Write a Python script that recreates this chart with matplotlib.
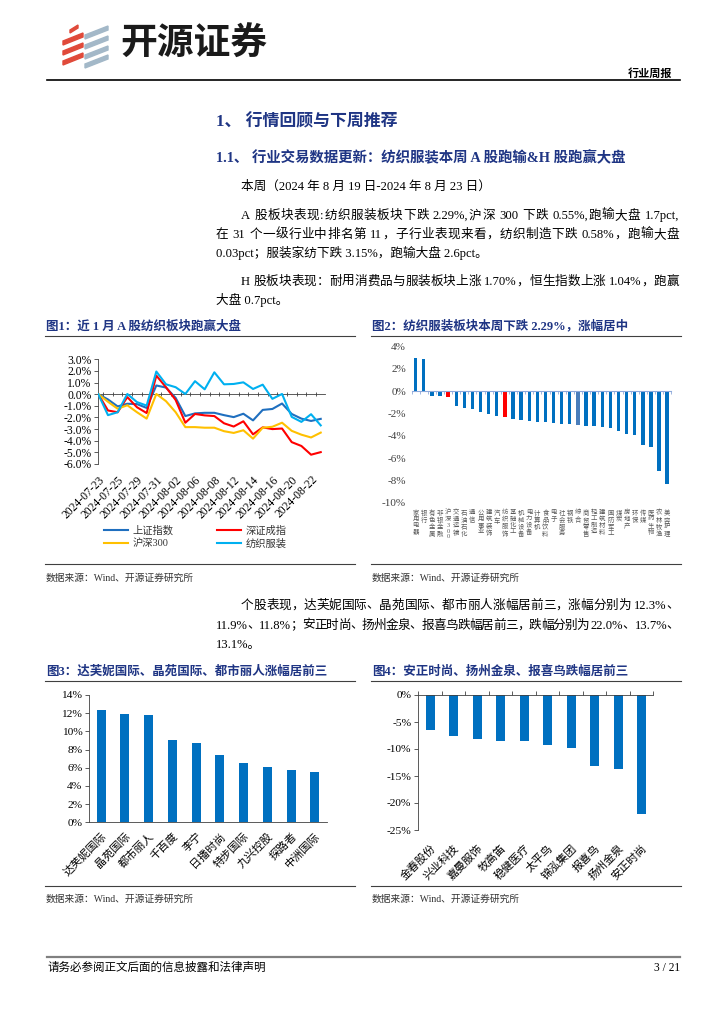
import numpy as np
import matplotlib
matplotlib.use('Agg')
import matplotlib.pyplot as plt
from matplotlib.lines import Line2D
from matplotlib.patches import Polygon
from matplotlib.ticker import FuncFormatter

plt.rcParams['font.family'] = ['Liberation Serif', 'Noto Sans CJK SC']
plt.rcParams['axes.unicode_minus'] = False

W, H = 724, 1024
NAVY = '#1F3584'
BLUE = '#0070C0'
RED = '#FF0000'

# ---- chart 1: cumulative change since 2024-07-23 (%)
dates = ['2024-07-23', '2024-07-24', '2024-07-25', '2024-07-26', '2024-07-29',
         '2024-07-30', '2024-07-31', '2024-08-01', '2024-08-02', '2024-08-05',
         '2024-08-06', '2024-08-07', '2024-08-08', '2024-08-09', '2024-08-12',
         '2024-08-13', '2024-08-14', '2024-08-15', '2024-08-16', '2024-08-19',
         '2024-08-20', '2024-08-21', '2024-08-22', '2024-08-23']
sh_index = [0, -0.45, -1.05, -0.82, -0.85, -1.18, 0.75, 0.57, -0.32, -1.88, -1.65, -1.6,
            -1.6, -1.8, -1.97, -1.68, -2.25, -1.35, -1.27, -0.8, -1.7, -2.1, -2.3, -2.12]
sz_index = [0, -1.4, -1.55, -0.25, -1.12, -1.62, 1.6, 0.6, -0.5, -2.45, -1.7, -1.82,
            -1.88, -2.5, -2.78, -2.33, -3.45, -2.85, -3.0, -2.95, -4.12, -4.45, -5.2, -4.98]
hs300 = [0, -0.65, -1.25, -0.95, -1.55, -2.1, 0.02, -0.6, -1.55, -2.83, -2.83, -2.88,
         -2.88, -3.18, -3.33, -3.1, -3.82, -2.88, -2.8, -2.45, -3.15, -3.48, -3.72, -3.3]
textile = [0, -1.8, -1.55, 0.02, -0.68, -0.98, 1.95, 0.85, 0.6, 0.02, 1.12, 0.42,
           1.88, 0.85, 0.88, 1.02, 0.45, 0.82, -0.4, 0.02, -1.95, -2.38, -1.72, -2.68]

# ---- chart 2: weekly change by industry (%)
industries = ['家用电器', '银行', '有色金属', '非银金融', '沪深300', '交通运输', '石油石化', '通信',
              '公用事业', '建筑装饰', '汽车', '纺织服饰', '基础化工', '机械设备', '电力设备', '计算机',
              '食品饮料', '电子', '社会服务', '钢铁', '综合', '商贸零售', '轻工制造', '建筑材料',
              '国防军工', '煤炭', '房地产', '环保', '传媒', '医药生物', '农林牧渔', '美容护理']
industry_chg = [2.98, 2.87, -0.42, -0.45, -0.55, -1.34, -1.5, -1.56, -1.86, -2.08, -2.2, -2.29,
                -2.45, -2.55, -2.64, -2.74, -2.8, -2.88, -2.9, -2.94, -3.0, -3.08, -3.12, -3.25,
                -3.28, -3.55, -3.82, -3.94, -4.78, -5.04, -7.16, -8.33]

# ---- chart 3 / 4: top gainers and losers (%)
gain_names = ['达芙妮国际', '晶苑国际', '都市丽人', '千百度', '李宁', '日播时尚', '特步国际',
              '九兴控股', '探路者', '中洲国际']
gain_vals = [12.3, 11.9, 11.8, 9.1, 8.75, 7.4, 6.5, 6.05, 5.75, 5.5]
loss_names = ['金春股份', '兴业科技', '嘉曼服饰', '牧高笛', '稳健医疗', '太平鸟', '锦泓集团',
              '报喜鸟', '扬州金泉', '安正时尚']
loss_vals = [-6.5, -7.55, -8.15, -8.55, -8.55, -9.3, -9.85, -13.1, -13.7, -22.0]

fig = plt.figure(figsize=(7.24, 10.24), dpi=100)
renderer = fig.canvas.get_renderer()


def box(l, t, r, b):
    return [l / W, 1 - b / H, (r - l) / W, (b - t) / H]


def hline(x0, x1, y, lw=0.8, color='#404040'):
    fig.add_artist(Line2D([x0 / W, x1 / W], [1 - y / H, 1 - y / H], lw=lw, color=color))


def is_cjk(ch):
    return ord(ch) > 0x2E7F


def tokens_of(s):
    toks, cur = [], ''
    for ch in s:
        if is_cjk(ch) or ch == ' ':
            if cur:
                toks.append(cur)
                cur = ''
            toks.append(ch)
        else:
            cur += ch
    if cur:
        toks.append(cur)
    return toks


def line(x0, y, s, size=9.1, x1=None, ha='left', **kw):
    base = 1 - (y + 0.36 * size * 100 / 72) / H
    if x1 is None:
        fig.text(x0 / W, base, s, fontsize=size, va='baseline', ha=ha, **kw)
        return
    # justified line: spread tokens evenly between x0 and x1
    toks = tokens_of(s)
    arts, widths = [], []
    for t in toks:
        a = fig.text(0, base, t, fontsize=size, va='baseline', ha='left', **kw)
        widths.append(a.get_window_extent(renderer).width)
        arts.append(a)
    gap = ((x1 - x0) - sum(widths)) / (len(toks) - 1)
    x = x0
    for a, w in zip(arts, widths):
        a.set_x(x / W)
        x += w + gap


# ---- page header
for yb in [33, 43, 53]:
    fig.add_artist(Polygon([(63 / W, 1 - (yb + 8) / H), (83 / W, 1 - yb / H),
                            (83 / W, 1 - (yb + 4) / H), (63 / W, 1 - (yb + 12) / H)],
                           closed=True, color='#E04A3A', transform=fig.transFigure))
fig.add_artist(Polygon([(70 / W, 1 - 30 / H), (78 / W, 1 - 25 / H), (78 / W, 1 - 28 / H), (70 / W, 1 - 33 / H)],
                       closed=True, color='#E04A3A', transform=fig.transFigure))
for yb in [27, 37, 47, 56]:
    fig.add_artist(Polygon([(85 / W, 1 - (yb + 8) / H), (108 / W, 1 - (yb - 1) / H),
                            (108 / W, 1 - (yb + 3) / H), (85 / W, 1 - (yb + 12) / H)],
                           closed=True, color='#A3B8C8', transform=fig.transFigure))
fig.text(120 / W, 1 - 44 / H, '开源证券', fontsize=26.5, fontweight='bold', va='center',
         family='Noto Sans CJK SC', color='#1A1A1A')
line(672, 73, '行业周报', size=8, ha='right', fontweight='bold')
hline(47, 680, 80, lw=1.2, color='black')

# ---- body text
line(216, 120, '1、 行情回顾与下周推荐', size=12.2, fontweight='bold', color=NAVY)
line(216, 157, '1.1、 行业交易数据更新：纺织服装本周 A 股跑输&H 股跑赢大盘', size=10.4,
     fontweight='bold', color=NAVY)
line(241, 185, '本周（2024 年 8 月 19 日-2024 年 8 月 23 日）')
line(241, 214, 'A 股板块表现:纺织服装板块下跌 2.29%,沪深 300 下跌 0.55%,跑输大盘 1.7pct,', x1=679)
line(216, 233, '在 31 个一级行业中排名第 11，子行业表现来看，纺织制造下跌 0.58%，跑输大盘', x1=679)
line(216, 252, '0.03pct；服装家纺下跌 3.15%，跑输大盘 2.6pct。')
line(241, 280, 'H 股板块表现：耐用消费品与服装板块上涨 1.70%，恒生指数上涨 1.04%，跑赢', x1=679)
line(216, 299, '大盘 0.7pct。')
line(241, 604, '个股表现，达芙妮国际、晶苑国际、都市丽人涨幅居前三，涨幅分别为 12.3%、', x1=679)
line(216, 624, '11.9%、11.8%；安正时尚、扬州金泉、报喜鸟跌幅居前三，跌幅分别为 22.0%、13.7%、', x1=679)
line(216, 643, '13.1%。')

# ---- captions, rules and sources
line(46, 325, '图1：近 1 月 A 股纺织板块跑赢大盘', size=9, fontweight='bold', color=NAVY)
line(372, 325, '图2：纺织服装板块本周下跌 2.29%，涨幅居中', size=9, fontweight='bold', color=NAVY)
line(46, 670, '图3：达芙妮国际、晶苑国际、都市丽人涨幅居前三', size=9, fontweight='bold', color=NAVY)
line(372, 670, '图4：安正时尚、扬州金泉、报喜鸟跌幅居前三', size=9, fontweight='bold', color=NAVY)
for y in [336, 564, 681, 886]:
    hline(45, 355, y)
    hline(371, 681, y)
for y in [577, 898]:
    line(46, y, '数据来源：Wind、开源证券研究所', size=7, color='#333333')
    line(372, y, '数据来源：Wind、开源证券研究所', size=7, color='#333333')

# ---- footer
hline(47, 680, 957, lw=1.6, color='#808080')
line(47, 967, '请务必参阅正文后面的信息披露和法律声明', size=8.3)
line(680, 967, '3 / 21', size=8.3, ha='right')

# ---- chart 1
ax1 = fig.add_axes(box(98.3, 359.3, 324.6, 464))
x = np.arange(len(dates))
h_sh, = ax1.plot(x, sh_index, color='#1F6FBF', lw=1.5, zorder=3)
h_sz, = ax1.plot(x, sz_index, color=RED, lw=1.5, zorder=3)
h_hs, = ax1.plot(x, hs300, color='#FFC000', lw=1.5, zorder=3)
h_tx, = ax1.plot(x, textile, color='#00B0F0', lw=1.5, zorder=3)
ax1.set_xlim(0, 23.4)
ax1.set_ylim(-6, 3)
ax1.set_yticks(np.arange(-6, 3.1, 1))
ax1.yaxis.set_major_formatter(FuncFormatter(lambda v, p: f'{v:.1f}%'))
ax1.tick_params(axis='y', length=3, width=0.6, color='#404040', labelsize=8.4, pad=2)
for s in ['top', 'right']:
    ax1.spines[s].set_visible(False)
ax1.spines['left'].set_color('#404040')
ax1.spines['left'].set_linewidth(0.6)
ax1.spines['bottom'].set_position(('data', 0))
ax1.spines['bottom'].set_color('#404040')
ax1.spines['bottom'].set_linewidth(0.6)
ax1.set_xticks([])
ax1.set_xticks(x[:-1] + 0.5, minor=True)
ax1.tick_params(axis='x', which='minor', direction='inout', length=3.5, width=0.6, color='#404040')
sec1 = ax1.secondary_xaxis('bottom')
sec1.spines['bottom'].set_visible(False)
sec1.set_xticks(x[::2], labels=dates[::2])
sec1.tick_params(length=0, pad=7, labelsize=8.4)
for lab in sec1.get_xticklabels():
    lab.set_rotation(45)
    lab.set_ha('right')
    lab.set_rotation_mode('anchor')
ax1.legend([h_sh, h_hs, h_sz, h_tx], ['上证指数', '沪深300', '深证成指', '纺织服装'], ncol=2,
           loc='upper left', bbox_to_anchor=(100 / W, 1 - 521 / H), bbox_transform=fig.transFigure,
           frameon=False, fontsize=7.4, handlelength=2.3, handletextpad=0.5, columnspacing=4.2,
           labelspacing=0.3, borderaxespad=0, labelcolor='#333333')

# ---- chart 2
ax2 = fig.add_axes(box(411.6, 346.7, 671.2, 502.7))
pos2 = np.arange(len(industries))
colors2 = [RED if n in ('沪深300', '纺织服饰') else ('#4A7EBB' if n == '综合' else BLUE) for n in industries]
ax2.bar(pos2, industry_chg, width=0.42, color=colors2, zorder=2)
ax2.set_xlim(-0.5, len(industries) - 0.5)
ax2.set_ylim(-10, 4)
ax2.set_yticks(np.arange(-10, 4.1, 2))
ax2.yaxis.set_major_formatter(FuncFormatter(lambda v, p: f'{v:.0f}%'))
ax2.tick_params(axis='y', length=0, labelsize=8, labelcolor='#404040', pad=4)
for s in ['top', 'right', 'left']:
    ax2.spines[s].set_visible(False)
ax2.spines['bottom'].set_position(('data', 0))
ax2.spines['bottom'].set_color('#8EA9DB')
ax2.spines['bottom'].set_linewidth(0.8)
ax2.set_xticks([])
ax2.set_xticks(np.arange(-0.5, len(industries), 1), minor=True)
ax2.tick_params(axis='x', which='minor', direction='out', length=2.5, width=0.6, color='#8EA9DB')
sec2 = ax2.secondary_xaxis('bottom')
sec2.spines['bottom'].set_visible(False)
sec2.set_xticks(pos2, labels=['\n'.join(n) for n in industries])
sec2.tick_params(length=0, pad=5, labelsize=4.6, labelcolor='#595959')
for lab in sec2.get_xticklabels():
    lab.set_linespacing(1.2)

# ---- chart 3
ax3 = fig.add_axes(box(89.3, 695, 326.7, 822.3))
pos3 = np.arange(len(gain_names))
ax3.bar(pos3, gain_vals, width=0.38, color=BLUE)
ax3.set_xlim(-0.5, len(gain_names) - 0.5)
ax3.set_ylim(0, 14)
ax3.set_yticks(np.arange(0, 14.1, 2))
ax3.yaxis.set_major_formatter(FuncFormatter(lambda v, p: f'{v:.0f}%'))
ax3.tick_params(axis='y', length=3, width=0.6, color='#404040', labelsize=8.2, pad=2)
for s in ['top', 'right']:
    ax3.spines[s].set_visible(False)
for s in ['left', 'bottom']:
    ax3.spines[s].set_color('#404040')
    ax3.spines[s].set_linewidth(0.6)
ax3.set_xticks(pos3, labels=gain_names)
ax3.tick_params(axis='x', length=0, pad=6, labelsize=8)
for lab in ax3.get_xticklabels():
    lab.set_rotation(45)
    lab.set_ha('right')
    lab.set_rotation_mode('anchor')

# ---- chart 4
ax4 = fig.add_axes(box(418.3, 695, 653.3, 830))
pos4 = np.arange(len(loss_names))
ax4.bar(pos4, loss_vals, width=0.38, color=BLUE)
ax4.set_xlim(-0.5, len(loss_names) - 0.5)
ax4.set_ylim(-25, 0)
ax4.set_yticks(np.arange(-25, 0.1, 5))
ax4.yaxis.set_major_formatter(FuncFormatter(lambda v, p: f'{v:.0f}%'))
ax4.tick_params(axis='y', length=3, width=0.6, color='#404040', labelsize=8.2, pad=2)
for s in ['bottom', 'right']:
    ax4.spines[s].set_visible(False)
for s in ['left', 'top']:
    ax4.spines[s].set_color('#404040')
    ax4.spines[s].set_linewidth(0.6)
ax4.set_xticks(pos4, labels=loss_names)
ax4.set_xticks(np.arange(-0.5, len(loss_names), 1), minor=True)
ax4.tick_params(axis='x', which='minor', top=True, bottom=False, direction='out', length=3,
                width=0.6, color='#404040')
ax4.tick_params(axis='x', which='major', length=0, pad=9, labelsize=8)
for lab in ax4.get_xticklabels():
    lab.set_rotation(45)
    lab.set_ha('right')
    lab.set_rotation_mode('anchor')

fig.savefig('out.png', dpi=100)
